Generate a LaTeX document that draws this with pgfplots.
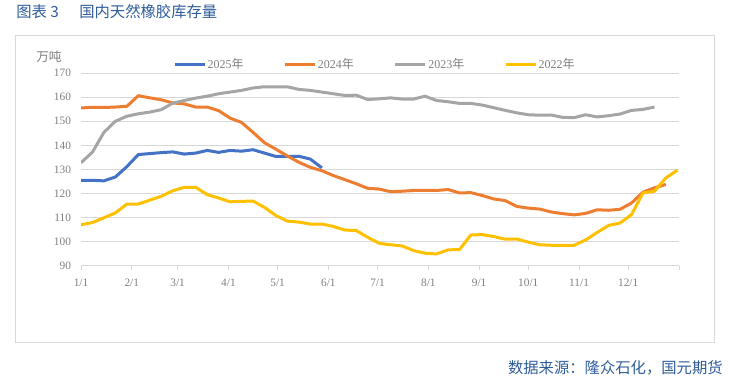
\documentclass[border=0pt]{standalone}
\usepackage{fontspec}
\setmainfont{Liberation Serif}
\newfontfamily\cjk{Noto Sans CJK SC}
\usepackage{pgfplots}
\pgfplotsset{compat=1.18}
\definecolor{cA}{HTML}{4472C4}
\definecolor{cB}{HTML}{ED7D31}
\definecolor{cC}{HTML}{A5A5A5}
\definecolor{cD}{HTML}{FFC000}
\definecolor{framegray}{HTML}{D9D9D9}
\definecolor{gridgray}{HTML}{D9D9D9}
\definecolor{tickgray}{HTML}{7F7F7F}
\definecolor{titleblue}{HTML}{2E5C9A}
\begin{document}
\begin{tikzpicture}
\path[use as bounding box] (0,0) rectangle (548.25pt,-288pt);
\draw[color=framegray, line width=0.75pt] (11.25pt,-27pt) rectangle (535.5pt,-256.5pt);
\node[anchor=west, text=titleblue, font=\cjk\fontsize{11.5}{13}\selectfont, inner sep=0pt] at (12pt,-9pt) {图表 3};
\node[anchor=west, text=titleblue, font=\cjk\fontsize{11.5}{13}\selectfont, inner sep=0pt] at (59.25pt,-9pt) {国内天然橡胶库存量};
\node[anchor=east, text=titleblue, font=\cjk\fontsize{11.5}{13}\selectfont, inner sep=0pt] at (542.25pt,-276pt) {数据来源：隆众石化，国元期货};
\node[anchor=west, text=tickgray, font=\cjk\fontsize{9.5}{11}\selectfont, inner sep=0pt] at (27pt,-42.75pt) {万吨};
\begin{axis}[
  at={(60.75pt,-199.5pt)}, anchor=south west,
  scale only axis, width=448.5pt, height=144.75pt,
  xmin=0, xmax=365, ymin=90, ymax=170,
  axis x line*=bottom, axis y line*=left,
  y axis line style={draw=none},
  x axis line style={draw=gridgray, line width=0.75pt},
  ytick={90,100,...,170},
  ytick style={draw=none},
  xtick={0,31,59,90,120,151,181,212,243,273,304,334,365},
  xticklabels={1/1,2/1,3/1,4/1,5/1,6/1,7/1,8/1,9/1,10/1,11/1,12/1,},
  xtick style={draw=gridgray, line width=0.75pt},
  xtick align=outside, major tick length=3pt,
  ymajorgrids, grid style={draw=gridgray, line width=0.75pt},
  /pgf/number format/assume math mode=true,
  tick label style={text=tickgray, font=\fontsize{8.5}{10}\selectfont},
  yticklabel style={xshift=-4pt},
  xticklabel style={yshift=-3pt},
  legend columns=4,
  legend style={at={(0.491,1.044)}, anchor=center, draw=none, fill=none,
    text=tickgray, font=\fontsize{9}{10}\selectfont,
    nodes={inner sep=1pt},
    /tikz/every even column/.append style={column sep=29pt}},
  legend image code/.code={\draw[#1, line width=2.25pt] (0pt,0pt) -- (22.5pt,0pt);},
  every axis plot/.append style={line width=2.25pt, line join=round},
]
\addplot[cA] coordinates {
(0,125.5) (7,125.5) (14,125.3) (21,126.9) (28,131.2) (35,136.2) (42,136.6) (49,137.0) (56,137.3) (63,136.4) (70,136.8) (77,137.9) (84,137.1) (91,137.9) (98,137.6) (105,138.2) (112,136.8) (119,135.4) (126,135.4) (133,135.5) (140,134.3) (147,130.7)
};
\addlegendentry{2025{\cjk 年}}
\addplot[cB] coordinates {
(0,155.5) (7,155.8) (14,155.7) (21,155.9) (28,156.2) (35,160.6) (42,159.7) (49,158.9) (56,157.6) (63,157.2)
(70,155.9) (77,155.9) (84,154.4) (91,151.3) (98,149.5) (105,145.4) (112,141.1) (119,138.4) (126,135.6) (133,133.0)
(140,130.9) (147,129.5) (154,127.5) (161,125.8) (168,124.1) (175,122.2) (182,121.9) (189,120.8) (196,121.0) (203,121.3)
(210,121.3) (217,121.3) (224,121.7) (231,120.3) (238,120.4) (245,119.2) (252,117.8) (259,117.1) (266,114.7) (273,114.0)
(280,113.6) (287,112.4) (294,111.7) (301,111.2) (308,111.8) (315,113.3) (322,113.1) (329,113.5) (336,116.1) (343,120.6)
(350,122.4) (357,123.8)
};
\addlegendentry{2024{\cjk 年}}
\addplot[cC] coordinates {
(0,132.8) (7,137.2) (14,145.4) (21,150.0) (28,152.1) (35,153.1) (42,153.8) (49,154.8) (56,157.5) (63,158.6)
(70,159.6) (77,160.4) (84,161.4) (91,162.1) (98,162.8) (105,163.8) (112,164.3) (119,164.3) (126,164.3) (133,163.2)
(140,162.8) (147,162.1) (154,161.4) (161,160.7) (168,160.8) (175,159.0) (182,159.3) (189,159.7) (196,159.2) (203,159.2)
(210,160.4) (217,158.6) (224,158.1) (231,157.4) (238,157.4) (245,156.7) (252,155.6) (259,154.5) (266,153.5) (273,152.7)
(280,152.5) (287,152.6) (294,151.6) (301,151.5) (308,152.7) (315,151.8) (322,152.3) (329,153.0) (336,154.5) (343,154.9)
(350,155.9)
};
\addlegendentry{2023{\cjk 年}}
\addplot[cD] coordinates {
(0,107.1) (7,108.0) (14,110.0) (21,112.0) (28,115.7) (35,115.7) (42,117.3) (49,118.9) (56,121.2) (63,122.6)
(70,122.6) (77,119.6) (84,118.2) (91,116.6) (98,116.8) (105,116.9) (112,114.3) (119,110.9) (126,108.6) (133,108.2)
(140,107.4) (147,107.4) (154,106.4) (161,104.9) (168,104.7) (175,101.9) (182,99.4) (189,98.8) (196,98.3) (203,96.4)
(210,95.3) (217,95.0) (224,96.7) (231,96.8) (238,102.9) (245,103.0) (252,102.2) (259,101.1) (266,101.2) (273,99.9)
(280,98.8) (287,98.6) (294,98.6) (301,98.6) (308,100.8) (315,103.9) (322,106.8) (329,107.8) (336,111.3) (343,120.3)
(350,121.0) (357,126.5) (364,129.7)
};
\addlegendentry{2022{\cjk 年}}
\end{axis}
\end{tikzpicture}
\end{document}
